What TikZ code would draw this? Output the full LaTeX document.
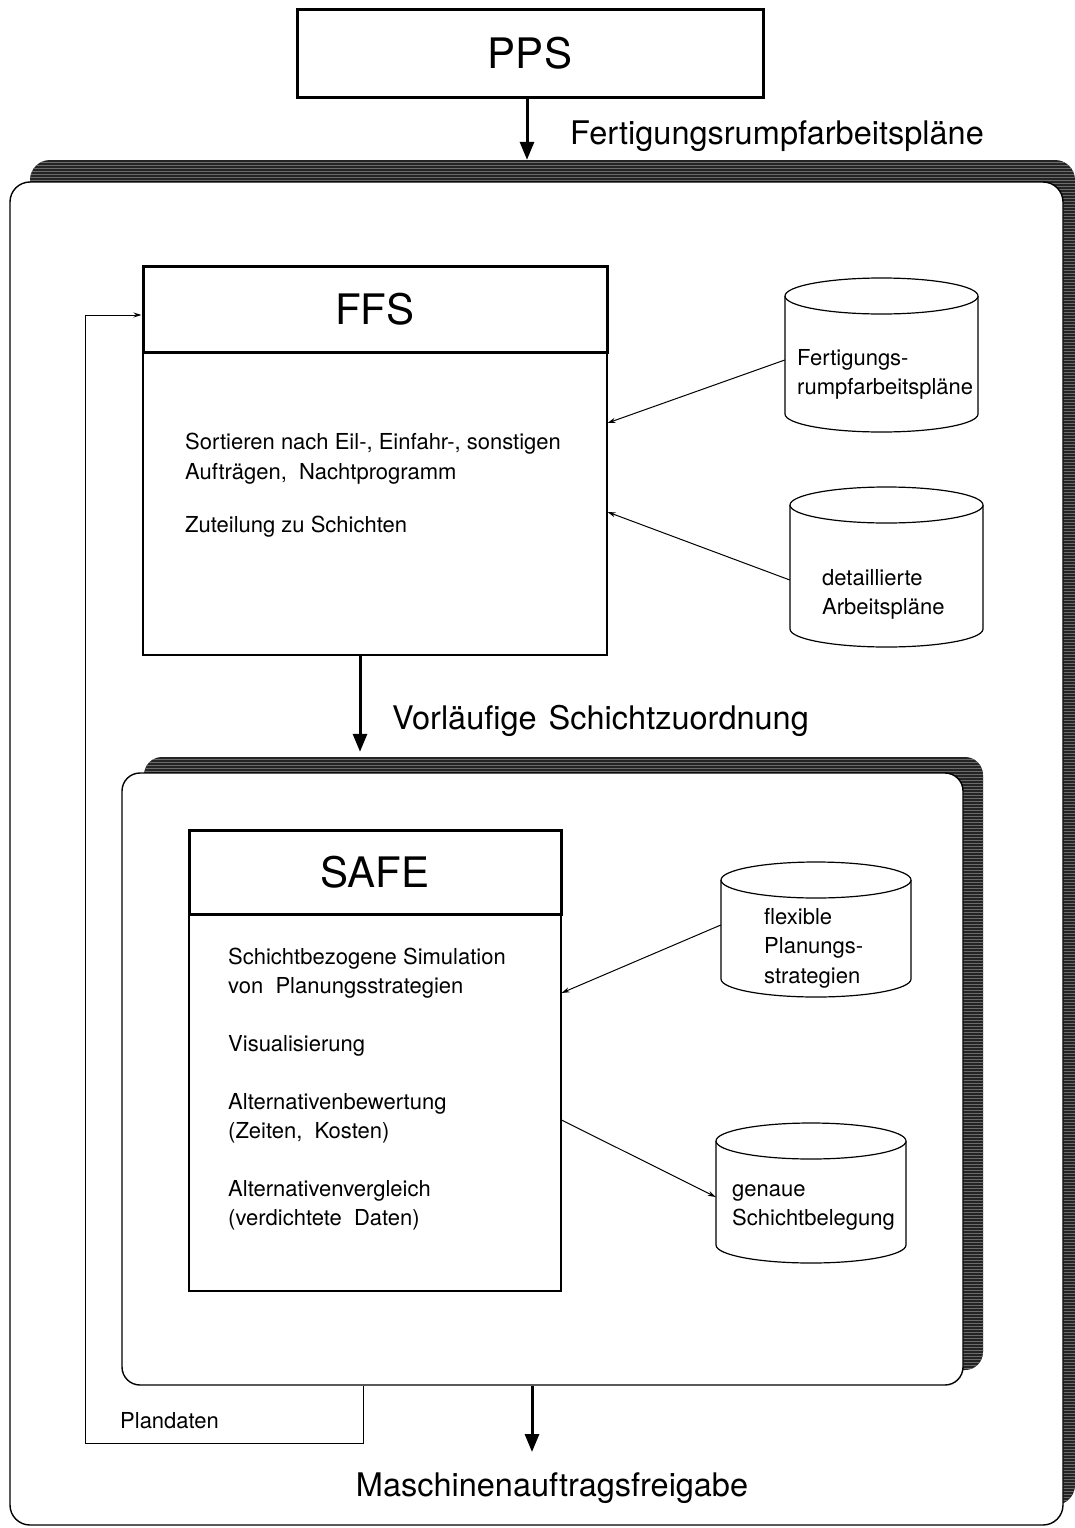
\documentclass[tikz,border=0pt]{standalone}
\usepackage{fontspec}
\setmainfont{TeX Gyre Heros}
\usetikzlibrary{arrows.meta,patterns}
\newcommand{\txtbody}{\fontsize{22}{29.5}\selectfont}
\newcommand{\txtlabel}{\fontsize{32.5}{38}\selectfont}
\newcommand{\txttitle}{\fontsize{42}{48}\selectfont}
\definecolor{shade}{gray}{0.14}
\definecolor{streak}{gray}{0.42}
% data store drawn as a cylinder: name, left x, right x, top-cap y, bottom-cap y
\newcommand{\drawstore}[5]{%
  \pgfmathsetmacro\storerx{(#3-#2)/2}%
  \pgfmathsetmacro\storecx{(#3+#2)/2}%
  \pgfmathsetmacro\storecy{(#4+#5)/2}%
  \draw[store] (#2,#4) -- (#2,#5)
    arc[start angle=180,end angle=0,x radius=\storerx,y radius=18] -- (#3,#4);
  \draw[store] (\storecx,#4) ellipse[x radius=\storerx,y radius=18];
  \node[inner sep=0pt,minimum width=#3pt-#2pt,minimum height=#5pt-#4pt] (#1) at (\storecx,\storecy) {};
}
\begin{document}
\begin{tikzpicture}[x=1pt,y=-1pt,
  titlebox/.style={draw,line width=3pt,inner sep=0pt,font=\txttitle},
  bodybox/.style={draw,line width=1.1pt,inner sep=0pt},
  frontbox/.style={draw,line width=1.4pt,fill=white,rounded corners=20pt,inner sep=0pt},
  shadowbox/.style={fill=shade,rounded corners=20pt,inner sep=0pt,
    postaction={pattern=horizontal lines,pattern color=streak}},
  flow/.style={line width=3pt,-{Triangle[length=18pt,width=14pt]}},
  feed/.style={line width=1pt,-{Stealth[length=8pt,width=5pt]}},
  bodytext/.style={anchor=north west,inner sep=0pt,align=left,font=\txtbody},
  flowlabel/.style={inner sep=0pt,font=\txtlabel},
  store/.style={line width=1.2pt,fill=white},
]
\useasboundingbox (0,0) rectangle (1075,1528);

% top-level system
\node[titlebox,minimum width=466pt,minimum height=87pt] (pps) at (530,53.5) {PPS};

% outer frame with its shadow
\node[shadowbox,minimum width=1045pt,minimum height=1345pt] (oshadow) at (552.5,832.5) {};
\node[frontbox,minimum width=1053pt,minimum height=1343pt] (ofront) at (536.5,853.5) {};

\draw[flow] ([xshift=-3pt]pps.south) -- ([xshift=-3pt]pps.south |- oshadow.north);
\node[flowlabel,anchor=base west] (lblrumpf) at (570,144) {Fertigungsrumpfarbeitspläne};

% FFS block
\node[titlebox,minimum width=464pt,minimum height=86pt] (ffshead) at (375,309) {FFS};
\node[bodybox,minimum width=464pt,minimum height=303pt] (ffsbody) at (375,503.5) {};
\node[bodytext] (ffstext) at (185,433) {Sortieren nach Eil-, Einfahr-, sonstigen\\Aufträgen,\ \ Nachtprogramm\\[23.5pt]Zuteilung zu Schichten};

% FFS data stores
\drawstore{cyla}{785}{978}{296}{414}
\node[bodytext] (cylatext) at (797,349) {Fertigungs-\\rumpfarbeitspläne};
\drawstore{cylb}{790}{983}{505}{629}
\node[bodytext] (cylbtext) at (822,569) {detaillierte\\Arbeitspläne};

\draw[feed] ([yshift=-5pt]cyla.west) -- ([yshift=80.5pt]ffsbody.east);
\draw[feed] ([yshift=-13pt]cylb.west) -- ([yshift=-8.5pt]ffsbody.east);

% inner frame with its shadow
\node[shadowbox,minimum width=839pt,minimum height=613pt,rounded corners=18pt] (ishadow) at (563.5,1063.5) {};
\node[frontbox,minimum width=841pt,minimum height=612pt,rounded corners=18pt] (ifront) at (542.5,1079) {};

\draw[flow] ([xshift=-15pt]ffsbody.south) -- ([xshift=-15pt,yshift=5pt]ffsbody.south |- ishadow.north);
\node[flowlabel,anchor=base west] (lblschicht) at (392,729) {Vorläufige\hspace{12pt}Schichtzuordnung};

% SAFE block
\node[titlebox,minimum width=372pt,minimum height=84pt] (safehead) at (375,872) {SAFE};
\node[bodybox,minimum width=372pt,minimum height=377pt] (safebody) at (375,1102.5) {};
\node[bodytext,font=\fontsize{22}{29}\selectfont] (safetext) at (228,948) {Schichtbezogene Simulation\\von\ \ Planungsstrategien\\[29pt]Visualisierung\\[29pt]Alternativenbewertung\\(Zeiten,\ \ Kosten)\\[29pt]Alternativenvergleich\\(verdichtete\ \ Daten)};

% SAFE data stores
\drawstore{cylc}{721}{911}{880}{979}
\node[bodytext] (cylctext) at (764,908) {flexible\\Planungs-\\strategien};
\drawstore{cyld}{716}{906}{1141}{1245}
\node[bodytext] (cyldtext) at (732,1184) {genaue\\Schichtbelegung};

\draw[feed] ([yshift=4.5pt]cylc.west) -- ([yshift=109.5pt]safebody.east);
\draw[feed] ([yshift=-17.5pt]safebody.east) -- ([yshift=-4pt]cyld.west);

% release and feedback of plan data
\coordinate (release) at (532,1452);
\draw[flow] (release |- ifront.south) -- (release);
\node[flowlabel,anchor=base] (lblfreigabe) at (552,1496) {Maschinenauftragsfreigabe};

\coordinate (loopa) at (363,1443);
\coordinate (loopb) at (85,1443);
\coordinate (loopc) at (85,315);
\draw[feed] (loopa |- ifront.south) -- (loopa) -- (loopb) -- (loopc) -- (loopc -| ffshead.west);
\node[inner sep=0pt,font=\txtbody,anchor=base west] (lblplan) at (120,1428) {Plandaten};
\end{tikzpicture}
\end{document}
